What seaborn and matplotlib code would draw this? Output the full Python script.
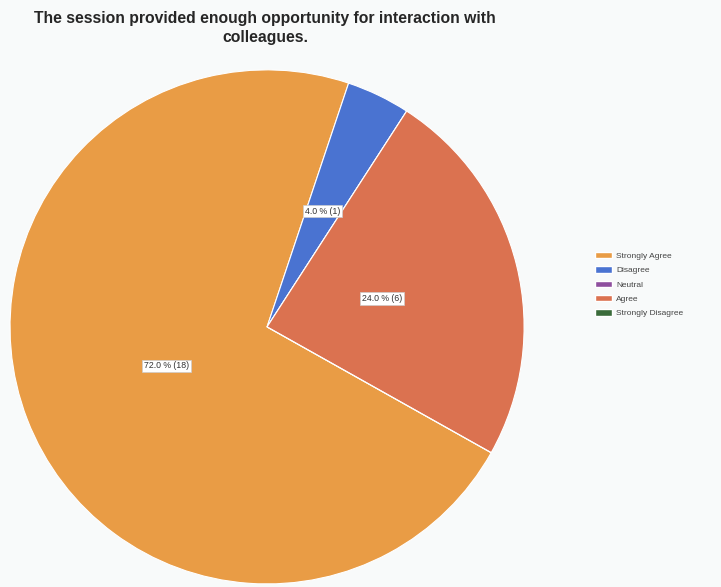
import matplotlib
matplotlib.use("Agg")
import matplotlib.pyplot as plt
import numpy as np
import seaborn as sns

# data
categories = ["Strongly Agree", "Disagree", "Neutral", "Agree", "Strongly Disagree"]
counts = [18, 1, 0, 6, 0]
colours = ["#E99C45", "#4A73D1", "#8E4F9E", "#DB7250", "#3A6B3A"]

sns.set_style("white")
plt.rcParams['font.family'] = ['Liberation Sans', 'DejaVu Sans']

total = sum(counts)
palette = sns.color_palette(colours)

fig = plt.figure(figsize=(7.21, 5.87), dpi=100, facecolor="#F8FAFA")
ax = fig.add_axes([0.0139, 0.0051, 0.713, 0.876])
ax.set_facecolor("#F8FAFA")

wedges, _ = ax.pie(counts, colors=palette, startangle=-29.3, counterclock=False,
                   radius=1, wedgeprops=dict(edgecolor="white", linewidth=0.8))
ax.set_xlim(-1, 1)
ax.set_ylim(-1, 1)
ax.set_aspect("equal")
ax.axis("off")

# percentage labels inside the slices
for w, c in zip(wedges, counts):
    if c == 0:
        continue
    mid = np.deg2rad((w.theta1 + w.theta2) / 2)
    r = {18: 0.42, 6: 0.46, 1: 0.5}[c]
    ax.text(r * np.cos(mid), r * np.sin(mid), f"{c / total * 100:.1f} % ({c})",
            ha="center", va="center", fontsize=6.3, color="#333333",
            bbox=dict(boxstyle="square,pad=0.2", facecolor="white", edgecolor="#cccccc", linewidth=0.5))

fig.text(0.368, 0.982, "The session provided enough opportunity for interaction with\ncolleagues.",
         ha="center", va="top", fontsize=11.3, fontweight="bold", color="#262626", linespacing=1.35)

handles = [plt.Rectangle((0, 0), 1, 1, facecolor=col) for col in palette]
fig.legend(handles, categories, loc="center left", bbox_to_anchor=(0.815, 0.515),
           frameon=False, fontsize=6, handlelength=2.0, handleheight=0.8,
           labelspacing=0.75, handletextpad=0.5, labelcolor="#444444")

fig.savefig("out.png", dpi=100, facecolor=fig.get_facecolor())
